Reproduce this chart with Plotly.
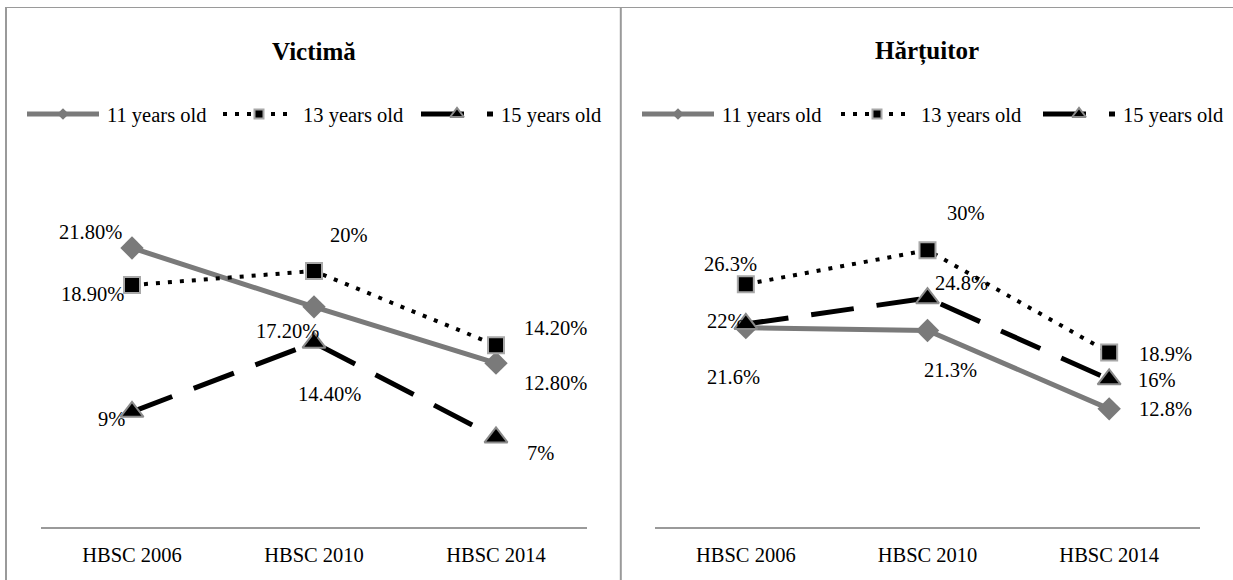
import plotly.graph_objects as go

W, H = 1233, 580

# ---- data -------------------------------------------------------------
categories = ["HBSC 2006", "HBSC 2010", "HBSC 2014"]
series_names = ["11 years old", "13 years old", "15 years old"]

victima_11 = [21.8, 17.2, 12.8]
victima_13 = [18.9, 20.0, 14.2]
victima_15 = [9.0, 14.4, 7.0]

hartuitor_11 = [21.6, 21.3, 12.8]
hartuitor_13 = [26.3, 30.0, 18.9]
hartuitor_15 = [22.0, 24.8, 16.0]

panel_titles = ["Victimă", "Hărțuitor"]

# ---- styling ----------------------------------------------------------
FONT = "Liberation Serif"
TEXT_SIZE = 20.5
BORDER = "#9a9a9a"

STYLE = {
    "11 years old": dict(
        line=dict(color="#7a7a7a", width=5),
        marker=dict(symbol="diamond", size=18, color="#7a7a7a",
                    line=dict(color="#7a7a7a", width=0)),
        key_size=9,
    ),
    "13 years old": dict(
        line=dict(color="black", width=4, dash="4px,8px"),
        marker=dict(symbol="square", size=16, color="black",
                    line=dict(color="#a8a8a8", width=2)),
        key_size=9,
    ),
    "15 years old": dict(
        line=dict(color="black", width=5, dash="43px,23px"),
        marker=dict(symbol="triangle-up", size=20, color="black",
                    line=dict(color="#8a8a8a", width=2)),
        key_size=12,
    ),
}

# label offsets in screen pixels (dx right, dy down) for each point
victima_offsets = {
    "11 years old": [(-42, -16), (-27, 24), (59, 20)],
    "13 years old": [(-40, 9), (35, -36), (59, -17)],
    "15 years old": [(-21, 7), (15, 51), (44, 16)],
}
hartuitor_offsets = {
    "11 years old": [(-12, 49), (23, 40), (56, 0)],
    "13 years old": [(-15, -20), (38, -37), (56, 1)],
    "15 years old": [(-20, -3), (34, -15), (48, 1)],
}

panels = [
    dict(values=[victima_11, victima_13, victima_15], offsets=victima_offsets,
         decimals=2, xaxis="x", yaxis="y", yrange=[0, 25],
         xpix=(41, 587), ytop=207, title_x=314,
         legend_x=[27, 223, 421]),
    dict(values=[hartuitor_11, hartuitor_13, hartuitor_15], offsets=hartuitor_offsets,
         decimals=1, xaxis="x2", yaxis="y2", yrange=[0, 35],
         xpix=(655, 1200), ytop=204, title_x=927,
         legend_x=[642, 841, 1043]),
]

AXIS_Y = 527          # pixel row of the category axis
LEGEND_Y = 114        # pixel row of the legend keys
KEY_LEN = 72          # legend key length in pixels
KEY_GAP = 8


def fmt(v, decimals):
    if float(v).is_integer():
        return f"{int(v)}%"
    return f"{v:.{decimals}f}%"


fig = go.Figure()
annotations = []

for p, title in zip(panels, panel_titles):
    for name, vals in zip(series_names, p["values"]):
        st = STYLE[name]
        fig.add_trace(go.Scatter(
            x=categories, y=vals, name=name, mode="lines+markers",
            line=st["line"], marker=st["marker"],
            xaxis=p["xaxis"], yaxis=p["yaxis"], showlegend=False,
            cliponaxis=False, hoverinfo="skip",
        ))
        for cat, v, (dx, dy) in zip(categories, vals, p["offsets"][name]):
            annotations.append(dict(
                x=cat, y=v, xref=p["xaxis"], yref=p["yaxis"],
                text=fmt(v, p["decimals"]), showarrow=False,
                xshift=dx, yshift=-dy, xanchor="center", yanchor="middle",
                font=dict(family=FONT, size=TEXT_SIZE, color="black"),
            ))

    # panel title
    annotations.append(dict(
        x=p["title_x"] / W, y=1 - 51 / H, xref="paper", yref="paper",
        text=f"<b>{title}</b>", showarrow=False,
        xanchor="center", yanchor="middle",
        font=dict(family=FONT, size=25, color="black"),
    ))

    # legend row: keys drawn on a pixel-space overlay axis, labels as text
    for name, x0 in zip(series_names, p["legend_x"]):
        st = STYLE[name]
        xs = [x0, x0 + KEY_LEN / 2, x0 + KEY_LEN]
        fig.add_trace(go.Scatter(
            x=[xs[0], xs[2]], y=[LEGEND_Y, LEGEND_Y], mode="lines",
            line=st["line"], xaxis="x3", yaxis="y3", showlegend=False,
            hoverinfo="skip",
        ))
        mk = dict(st["marker"])
        mk["size"] = st["key_size"]
        fig.add_trace(go.Scatter(
            x=[xs[1]], y=[LEGEND_Y], mode="markers", marker=mk,
            xaxis="x3", yaxis="y3", showlegend=False, hoverinfo="skip",
        ))
        annotations.append(dict(
            x=(x0 + KEY_LEN + KEY_GAP - 2) / W, y=1 - (LEGEND_Y + 1) / H,
            xref="paper", yref="paper", text=name, showarrow=False,
            xanchor="left", yanchor="middle",
            font=dict(family=FONT, size=TEXT_SIZE, color="black"),
        ))

axis_common = dict(
    showline=True, linecolor=BORDER, linewidth=2, showgrid=False,
    zeroline=False, ticks="",
    tickfont=dict(family=FONT, size=TEXT_SIZE, color="black"),
    range=[-0.5, 2.5], fixedrange=True, ticklabelstandoff=8,
)
y_common = dict(visible=False, showgrid=False, zeroline=False, fixedrange=True)

layout_axes = {}
for i, p in enumerate(panels):
    sfx = "" if i == 0 else str(i + 1)
    layout_axes[f"xaxis{sfx}"] = dict(
        axis_common, domain=[p["xpix"][0] / W, p["xpix"][1] / W],
        anchor=f"y{sfx}", type="category")
    layout_axes[f"yaxis{sfx}"] = dict(
        y_common, domain=[(H - AXIS_Y) / H, (H - p["ytop"]) / H],
        range=p["yrange"], anchor=f"x{sfx}")

layout_axes["xaxis3"] = dict(visible=False, domain=[0, 1], range=[0, W],
                             anchor="y3", fixedrange=True)
layout_axes["yaxis3"] = dict(visible=False, domain=[0, 1], range=[H, 0],
                             anchor="x3", fixedrange=True)

# panel frames
shapes = [
    dict(type="line", xref="paper", yref="paper", x0=6 / W, x1=6 / W,
         y0=1 - 7 / H, y1=-0.1, line=dict(color=BORDER, width=2)),
    dict(type="line", xref="paper", yref="paper", x0=5 / W, x1=1.01,
         y0=1 - 7.5 / H, y1=1 - 7.5 / H, line=dict(color=BORDER, width=1)),
    dict(type="line", xref="paper", yref="paper", x0=620.8 / W, x1=620.8 / W,
         y0=1 - 7 / H, y1=-0.1, line=dict(color=BORDER, width=2)),
]

fig.update_layout(
    width=W, height=H, margin=dict(l=0, r=0, t=0, b=0),
    paper_bgcolor="white", plot_bgcolor="rgba(0,0,0,0)",
    font=dict(family=FONT),
    showlegend=False, annotations=annotations, shapes=shapes,
    **layout_axes,
)

fig.write_html("out.html")
